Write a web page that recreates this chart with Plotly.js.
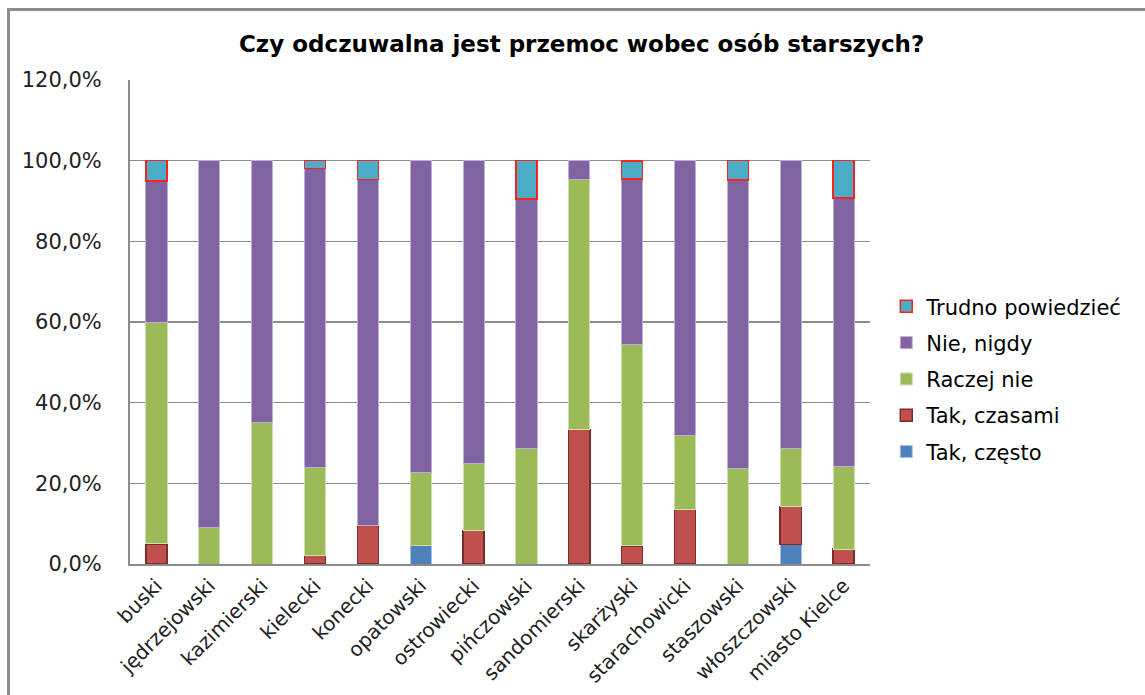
<!DOCTYPE html>
<html>
<head>
<meta charset="utf-8">
<script src="https://cdn.plot.ly/plotly-3.0.1.min.js"></script>
<style>
  html, body { margin: 0; padding: 0; background: #fff; }
  #wrap { position: relative; width: 1145px; height: 695px; overflow: hidden; }
  #chart { width: 1145px; height: 695px; }
  #frame { position: absolute; left: 7px; top: 8px; right: -5px; bottom: -5px;
           border-top: 3px solid #8c8c8c; border-left: 3px solid #8c8c8c; pointer-events: none; }
</style>
</head>
<body>
<div id="wrap">
  <div id="chart"></div>
  <div id="frame"></div>
</div>
<script>
const categories = ["buski","jędrzejowski","kazimierski","kielecki","konecki","opatowski","ostrowiecki","pińczowski","sandomierski","skarżyski","starachowicki","staszowski","włoszczowski","miasto Kielce"];

const takCzesto  = [null, null, null, null, null, 4.5, null, null, null, null, null, null, 4.8, null];
const takCzasami = [5.0, null, null, 2.2, 9.5, null, 8.3, null, 33.3, 4.5, 13.6, null, 9.5, 3.7];
const raczejNie  = [55.0, 9.1, 35.0, 21.7, null, 18.2, 16.7, 28.6, 62.0, 50.0, 18.2, 23.8, 14.3, 20.4];
const nieNigdy   = [35.0, 90.9, 65.0, 74.1, 85.8, 77.3, 75.0, 61.9, 4.7, 40.9, 68.2, 71.4, 71.4, 66.7];
const trudno     = [5.0, null, null, 2.0, 4.7, null, null, 9.5, null, 4.5, null, 4.8, null, 9.2];

const seriesNames = ["Tak, często", "Tak, czasami", "Raczej nie", "Nie, nigdy", "Trudno powiedzieć"];
const yTickVals = [0, 20, 40, 60, 80, 100, 120];
const yTickText = ["0,0%", "20,0%", "40,0%", "60,0%", "80,0%", "100,0%", "120,0%"];

const mk = (name, y, color, lineColor, lineWidth, rank) => ({
  type: "bar", name: name, x: categories, y: y, legendgroup: name, legendrank: rank,
  marker: { color: color, line: { color: lineColor, width: lineWidth } },
  hoverinfo: "x+y+name"
});

const data = [
  mk(seriesNames[0], takCzesto, "#4F81BD", "#a7c0de", 1, 5),
  mk(seriesNames[1], takCzasami, "#C0504D", "#7a2e2c", 1.5, 4),
  mk(seriesNames[2], raczejNie, "#9BBB59", "#cfe0ad", 1, 3),
  mk(seriesNames[3], nieNigdy, "#8064A2", "#bfb0d3", 1, 2),
  mk(seriesNames[4], trudno, "#4BACC6", "#ff2020", 1.5, 1)
];

const layout = {
  width: 1145, height: 695,
  paper_bgcolor: "#ffffff", plot_bgcolor: "#ffffff",
  barmode: "stack",
  bargap: 0.6,
  margin: { l: 130, r: 275, t: 80, b: 131, pad: 0 },
  title: {
    text: "Czy odczuwalna jest przemoc wobec osób starszych?",
    font: { family: "DejaVu Sans", size: 23, color: "#000000", weight: "bold" },
    x: 0.508, xanchor: "center", y: 0.937, yanchor: "middle"
  },
  xaxis: {
    type: "category",
    tickangle: -45,
    tickfont: { family: "DejaVu Sans", size: 20, color: "#222222" },
    showline: true, linecolor: "#8c8c8c", linewidth: 2,
    ticks: "", showgrid: false, zeroline: false,
    automargin: false
  },
  yaxis: {
    range: [0, 120],
    tickmode: "array",
    tickvals: yTickVals,
    ticktext: yTickText,
    tickfont: { family: "DejaVu Sans", size: 21, color: "#222222" },
    ticklabelstandoff: 22,
    showline: true, linecolor: "#8c8c8c", linewidth: 2,
    showgrid: true, gridcolor: "#8c8c8c", gridwidth: 1.5,
    zeroline: false, ticks: "",
    automargin: false
  },
  legend: {
    x: 1.022, xanchor: "left", y: 0.574, yanchor: "top",
    traceorder: "grouped",
    tracegroupgap: 6,
    font: { family: "DejaVu Sans", size: 21, color: "#000000" },
    bgcolor: "rgba(0,0,0,0)"
  },
  showlegend: true
};

Plotly.newPlot("chart", data, layout, { displayModeBar: false, staticPlot: true });
</script>
</body>
</html>
